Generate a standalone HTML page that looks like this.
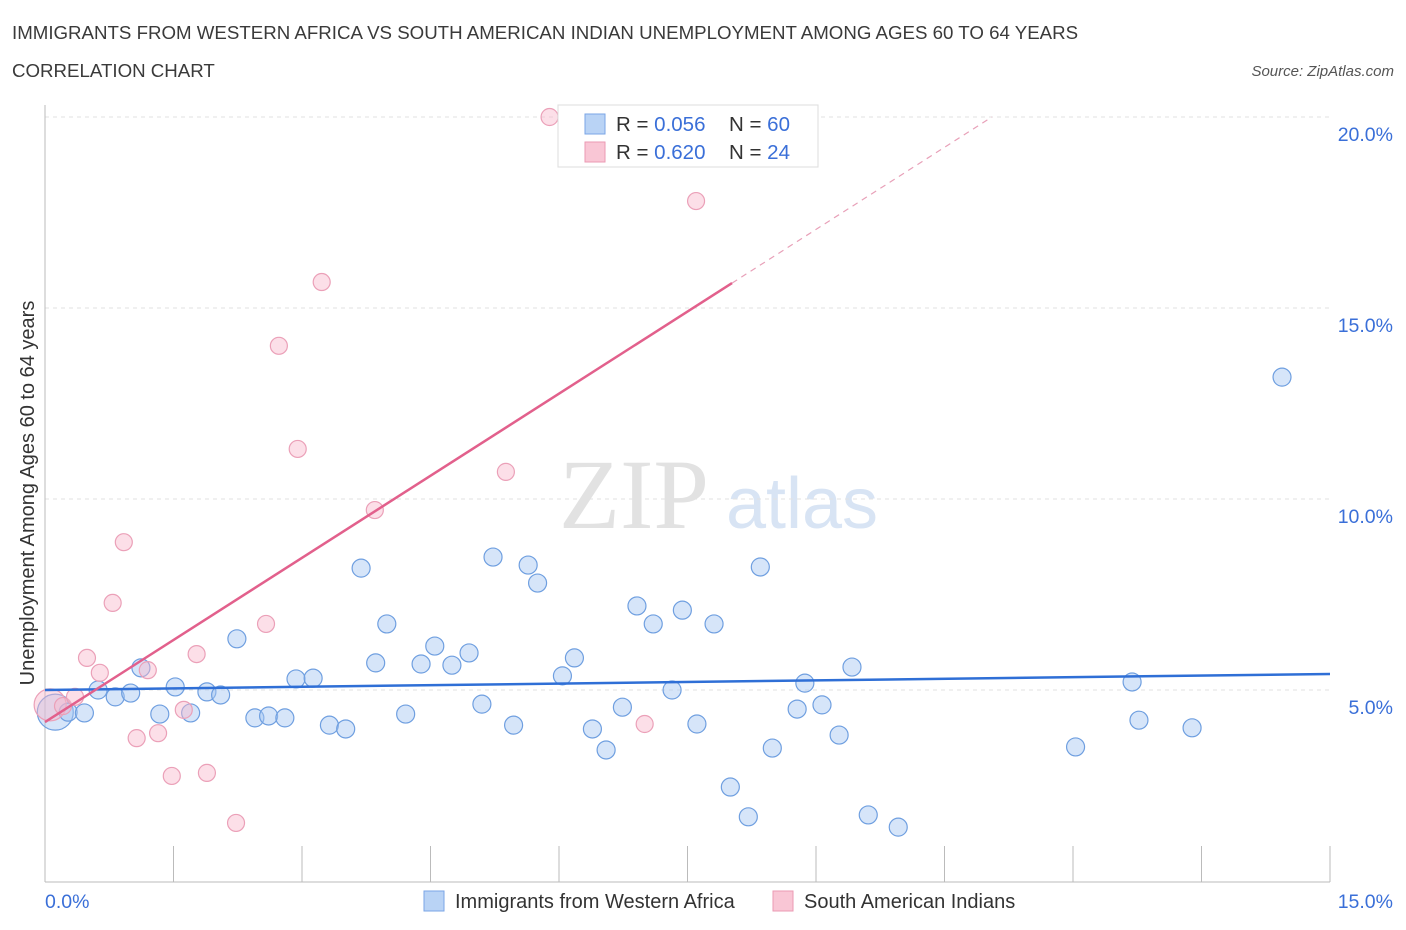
<!DOCTYPE html>
<html><head><meta charset="utf-8"><style>
body{margin:0;background:#fff;font-family:"Liberation Sans",sans-serif;}
svg{display:block}
</style></head><body>
<svg id="c" width="1406" height="930" xmlns="http://www.w3.org/2000/svg">
<text x="12" y="39" font-size="18.7" fill="#3a3a3a">IMMIGRANTS FROM WESTERN AFRICA VS SOUTH AMERICAN INDIAN UNEMPLOYMENT AMONG AGES 60 TO 64 YEARS</text>
<text x="12" y="77" font-size="18.7" fill="#3a3a3a">CORRELATION CHART</text>
<text x="1394" y="76" font-size="15" font-style="italic" fill="#555" text-anchor="end">Source: ZipAtlas.com</text>
<text x="634" y="528" font-size="100" font-family="Liberation Serif,serif" fill="#e2e2e2" text-anchor="middle">ZIP</text>
<text x="802" y="528" font-size="72" fill="#d8e4f4" text-anchor="middle">atlas</text>
<g id="grid"></g>
<g id="pts"></g>
<g id="lines"></g>
<text transform="translate(34,493) rotate(-90)" font-size="20" fill="#333" text-anchor="middle">Unemployment Among Ages 60 to 64 years</text>
<g>
<rect x="558" y="105" width="260" height="62" fill="#fff" stroke="#ddd"/>
<rect x="585" y="114" width="20" height="20" fill="#b9d3f5" stroke="#7aa5e6"/>
<rect x="585" y="142" width="20" height="20" fill="#f9c6d5" stroke="#eb9ab3"/>
<text x="616" y="131" font-size="20.5" fill="#333">R = <tspan fill="#3a6fd8">0.056</tspan><tspan x="729">N = </tspan><tspan fill="#3a6fd8">60</tspan></text>
<text x="616" y="159" font-size="20.5" fill="#333">R = <tspan fill="#3a6fd8">0.620</tspan><tspan x="729">N = </tspan><tspan fill="#3a6fd8">24</tspan></text>
</g>
<g>
<rect x="424" y="891" width="20" height="20" fill="#b9d3f5" stroke="#7aa5e6"/>
<text x="455" y="908" font-size="20" fill="#333">Immigrants from Western Africa</text>
<rect x="773" y="891" width="20" height="20" fill="#f9c6d5" stroke="#eb9ab3"/>
<text x="804" y="908" font-size="20" fill="#333">South American Indians</text>
</g>
</svg>
<script>
const xTickLabels=["0.0%","15.0%"];
const yTicks=[5,10,15,20];
const yTickLabels=["5.0%","10.0%","15.0%","20.0%"];
const blueX=[0.12,0.27,0.46,0.62,0.82,1.00,1.12,1.34,1.52,1.70,1.89,2.05,2.24,2.45,2.61,2.80,2.93,3.13,3.32,3.51,3.69,3.86,3.99,4.21,4.39,4.55,4.75,4.95,5.10,5.23,5.47,5.64,5.75,6.04,6.18,6.39,6.55,6.74,6.91,7.10,7.32,7.44,7.61,7.81,8.00,8.21,8.35,8.49,8.78,8.87,9.07,9.27,9.42,9.61,9.96,12.03,12.69,12.77,13.39,14.44];
const blueY=[4.42,4.42,4.40,5.00,4.82,4.92,5.58,4.37,5.08,4.40,4.95,4.87,6.34,4.27,4.32,4.27,5.29,5.31,4.08,3.98,8.19,5.71,6.73,4.37,5.68,6.15,5.65,5.97,4.63,8.48,4.08,8.27,7.80,5.37,5.84,3.98,3.43,4.55,7.20,6.73,5.00,7.09,4.11,6.73,2.46,1.68,8.22,3.48,4.50,5.18,4.61,3.82,5.60,1.73,1.41,3.51,5.21,4.21,4.01,13.19];
const pinkX=[0.06,0.21,0.35,0.49,0.64,0.79,0.92,1.07,1.20,1.32,1.48,1.62,1.77,1.89,2.23,2.58,2.73,2.95,3.23,3.85,5.38,5.89,7.00,7.60];
const pinkY=[4.61,4.58,4.82,5.84,5.45,7.28,8.87,3.74,5.52,3.87,2.75,4.48,5.94,2.83,1.52,6.73,14.01,11.31,15.68,9.71,10.71,20.00,4.11,17.80];
const blueTrend=[5.00,0.028];
const pinkTrend=[4.16,1.433];
const NS="http://www.w3.org/2000/svg";
const X=v=>45+v*(1285/15), Y=v=>881-v*(191/5);
function mk(p,t,a){const e=document.createElementNS(NS,t);for(const k in a)e.setAttribute(k,a[k]);p.appendChild(e);return e;}
const g=document.getElementById('grid');
yTicks.forEach((t,i)=>{
 const l=mk(g,'line',{x1:45,x2:1330,y1:Y(t),y2:Y(t),stroke:'#e2e2e2','stroke-dasharray':'4,4'});
 
 
 const tx=mk(g,'text',{x:1393,y:Y(t)+24,'font-size':19.5,fill:'#3a6fd8','text-anchor':'end'});
 tx.textContent=yTickLabels[i];
 
 
});
mk(g,'line',{x1:45,x2:45,y1:105,y2:882,stroke:'#bbb'});
mk(g,'line',{x1:45,x2:1330,y1:882,y2:882,stroke:'#bbb'});
for(let i=0;i<=10;i++){const x=X(i*1.5);const t=mk(g,'line',{x1:x,x2:x,y1:846,y2:882,stroke:'#bbb'});
 
 }
const xl=[[45,'start'],[1393,'end']];
xTickLabels.forEach((s,i)=>{const t=mk(g,'text',{x:xl[i][0],y:908,'font-size':19.5,fill:'#3a6fd8','text-anchor':xl[i][1]});t.textContent=s;
 
 });
const p=document.getElementById('pts');
blueX.forEach((x,i)=>{const c=mk(p,'circle',{cx:X(x),cy:Y(blueY[i]),r:i==0?18:9,fill:'rgba(164,198,242,0.45)',stroke:'#6f9fe0','stroke-width':1.2});
 
 });
pinkX.forEach((x,i)=>{const c=mk(p,'circle',{cx:X(x),cy:Y(pinkY[i]),r:i==0?16:8.5,fill:'rgba(248,184,204,0.45)',stroke:'#eba0b8','stroke-width':1.2});
 
 });
const L=document.getElementById('lines');
let b=mk(L,'line',{x1:X(0),y1:Y(blueTrend[0]),x2:X(15),y2:Y(blueTrend[0]+blueTrend[1]*15),stroke:'#2f6fd6','stroke-width':2.5});


const xe=8.02, x20=(20-pinkTrend[0])/pinkTrend[1];
let pl=mk(L,'line',{x1:X(0),y1:Y(pinkTrend[0]),x2:X(xe),y2:Y(pinkTrend[0]+pinkTrend[1]*xe),stroke:'#e2608c','stroke-width':2.5});


let pd=mk(L,'line',{x1:X(xe),y1:Y(pinkTrend[0]+pinkTrend[1]*xe),x2:X(x20),y2:Y(20),stroke:'#e8a0b8','stroke-width':1.2,'stroke-dasharray':'6,5'});


</script>
</body></html>
